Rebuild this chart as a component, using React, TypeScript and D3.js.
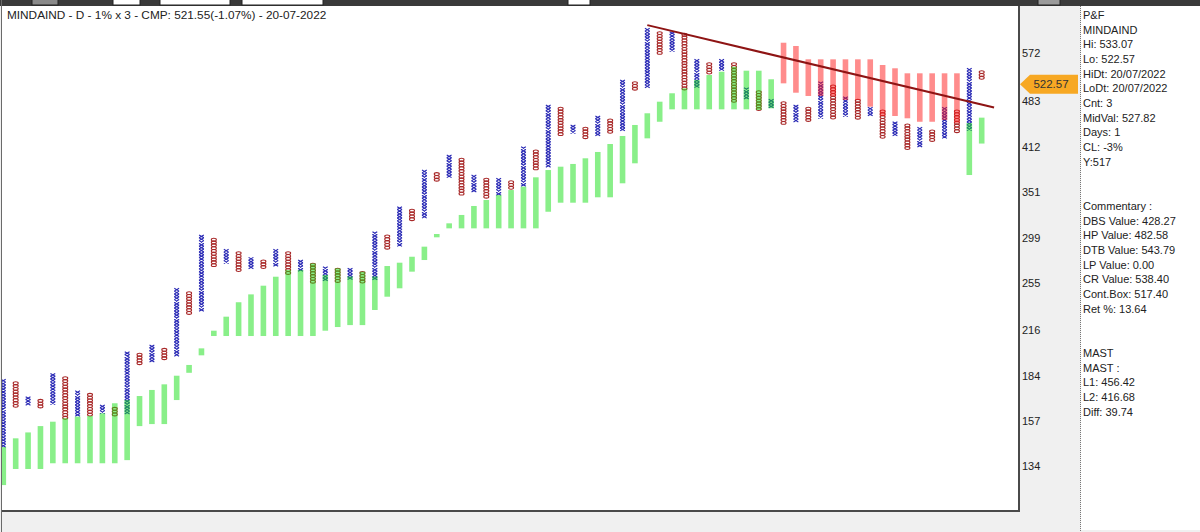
import React from 'react';
import * as d3 from 'd3';

// P&F columns, alternating X / O
const colKind = 'XOXOXOXOXOXOXOXOXOXOXOXOXOXOXOXOXOXOXOXOXOXOXOXOXOXOXOXOXOXOXOXOXOXOXOXOXOXOXOXO';

const colHigh = [
  181.8, 180.2, 171.0, 169.4, 185.6, 183.4, 174.6, 173.0, 166.1, 164.7,
  200.3, 199.2, 205.1, 202.7, 250.4, 247.4, 302.1, 298.6, 287.2, 284.8,
  279.2, 276.6, 287.2, 284.8, 276.6, 273.4, 270.2, 268.7, 268.7, 265.5,
  305.6, 302.1, 333.6, 330.6, 379.6, 376.1, 400.2, 395.6, 373.0, 368.7,
  368.7, 365.6, 412.1, 407.3, 477.2, 473.4, 444.8, 441.2, 459.1, 454.2,
  521.1, 518.0, 625.0, 617.6, 617.6, 614.1, 560.4, 553.8, 560.4, 553.8,
  507.2, 501.8, 486.8, 482.8, 477.2, 473.4, 518.0, 512.0, 491.3, 486.8,
  473.4, 468.9, 449.9, 446.3, 441.2, 437.0, 473.4, 468.9, 543.0, 538.4,
];

const colLow = [
  143.2, 164.7, 166.7, 164.7, 166.1, 158.5, 159.8, 159.8, 161.6, 159.8,
  161.3, 191.2, 192.7, 195.0, 197.3, 228.7, 230.6, 270.8, 273.4, 265.5,
  267.7, 267.7, 270.2, 262.4, 265.5, 254.8, 257.8, 254.8, 257.8, 254.8,
  257.8, 287.2, 290.6, 316.5, 320.3, 364.3, 368.7, 347.6, 350.5, 343.7,
  347.6, 353.8, 358.0, 379.6, 384.1, 427.9, 432.0, 424.4, 427.9, 432.0,
  437.0, 501.8, 506.1, 571.0, 575.6, 501.8, 509.0, 533.5, 536.5, 482.8,
  486.8, 467.7, 473.4, 446.3, 449.9, 449.9, 453.8, 453.8, 457.9, 453.8,
  457.9, 424.4, 427.9, 407.3, 411.2, 419.4, 423.0, 432.0, 437.0, 522.4,
];

// MAST band per column
const bandHigh = [
  143.2, 147.7, 150.8, 154.2, 156.6, 158.5, 159.4, 159.8, 161.3, 167.1,
  169.0, 171.4, 175.1, 178.6, 184.1, 191.2, 202.7, 215.7, 226.6, 238.4,
  245.1, 252.7, 260.8, 267.0, 267.0, 273.4, 262.4, 268.7, 261.0, 265.5,
  261.0, 270.8, 274.0, 279.8, 289.9, 303.1, 314.7, 324.1, 334.5, 341.6,
  347.6, 353.8, 358.0, 370.0, 379.6, 384.1, 387.8, 395.6, 404.5, 416.0,
  427.9, 444.8, 463.5, 482.8, 497.3, 506.0, 521.1, 530.3, 536.5, 546.0,
  538.4, 538.4, 522.4, 594.1, 587.3, 560.4, 560.4, 560.4, 560.4, 560.4,
  560.4, 549.3, 543.0, 533.5, 533.5, 533.5, 533.5, 533.5, 447.9, 456.42,
];

const bandLow = [
  125.3, 132.6, 132.6, 132.6, 135.3, 135.3, 135.3, 135.3, 135.3, 135.3,
  136.8, 154.2, 155.3, 155.3, 169.0, 186.0, 197.8, 211.7, 211.7, 211.7,
  211.7, 211.7, 211.7, 211.7, 211.7, 211.7, 215.7, 218.5, 220.0, 220.0,
  232.0, 243.1, 250.4, 265.5, 276.6, 299.6, 309.2, 309.2, 309.2, 309.2,
  309.2, 309.2, 309.2, 309.2, 327.8, 338.4, 338.4, 338.4, 344.9, 344.9,
  362.3, 388.7, 424.4, 449.9, 470.0, 470.0, 470.0, 470.0, 470.0, 470.0,
  470.0, 468.9, 471.7, 515.0, 498.3, 492.6, 492.6, 492.6, 485.7, 485.7,
  474.4, 459.1, 459.1, 455.4, 449.9, 449.9, 452.6, 447.9, 373.0, 416.68,
];

// G = band below price (green), R = band above price (red)
const bandTone = 'GGGGGGGGGGGGGGGGGGGGGGGGGGGGGGGGGGGGGGGGGGGGGGGGGGGGGGGGGGGGGGGRRRRRRRRRRRRRRRGG';

const trendCols = [52, 80];
const trendPrices = [632, 473];

const yTicks = [572, 483, 412, 351, 299, 255, 216, 184, 157, 134];

const lastPrice = 522.57;
const title = 'MINDAIND - D - 1% x 3 - CMP: 521.55(-1.07%) - 20-07-2022';

const infoLines = [
  'P&F', 'MINDAIND', 'Hi: 533.07', 'Lo: 522.57', 'HiDt: 20/07/2022', 'LoDt: 20/07/2022',
  'Cnt: 3', 'MidVal: 527.82', 'Days: 1', 'CL: -3%', 'Y:517', '', '',
  'Commentary :', 'DBS Value:  428.27', 'HP Value: 482.58', 'DTB Value: 543.79',
  'LP Value: 0.00', 'CR Value: 538.40', 'Cont.Box: 517.40', 'Ret %: 13.64', '', '',
  'MAST', 'MAST :', 'L1: 456.42', 'L2: 416.68', 'Diff: 39.74',
];

const toolbarBoxes = [
  { x: 32, w: 26, c: '#8a8a8a' },
  { x: 113, w: 27, c: '#ffffff' },
  { x: 160, w: 70, c: '#ffffff' },
  { x: 242, w: 81, c: '#ffffff' },
  { x: 568, w: 22, c: '#ffffff' },
  { x: 1038, w: 22, c: '#9a9a9a' },
];

const FONT = '"Liberation Sans", Arial, sans-serif';
const BOX = 1.01;

export default function App() {
  const width = 1200;
  const height = 532;
  const plot = { l: 2, t: 6, r: 1019, b: 511 };

  const x = d3.scaleLinear().domain([0, colKind.length - 1]).range([3.3, 981.7]);
  const y = d3.scaleLog().domain([134, 572]).range([466, 53.5]);

  const symbols: React.ReactNode[] = [];
  for (let i = 0; i < colKind.length; i++) {
    const hi = colHigh[i];
    const n = Math.max(1, Math.round(Math.log(hi / colLow[i]) / Math.log(BOX)));
    const cx = x(i);
    for (let k = 0; k < n; k++) {
      const t = y(hi / Math.pow(BOX, k));
      const b = y(hi / Math.pow(BOX, k + 1));
      if (colKind[i] === 'X') {
        symbols.push(
          <path key={`s${i}-${k}`}
                d={`M${cx - 2.4},${t}L${cx + 2.4},${b}M${cx + 2.4},${t}L${cx - 2.4},${b}`}
                stroke="#2828b4" strokeWidth={1.1} fill="none"/>
        );
      } else {
        symbols.push(
          <ellipse key={`s${i}-${k}`} cx={cx} cy={(t + b) / 2} rx={2.5} ry={(b - t) / 2}
                   stroke="#a82828" strokeWidth={1.1} fill="none"/>
        );
      }
    }
  }

  const bands = colKind.split('').map((_, i) => {
    const t = y(bandHigh[i]);
    const b = y(bandLow[i]);
    return (
      <rect key={`b${i}`} x={x(i) - 2.8} y={t} width={5.6} height={Math.max(2, b - t)}
            fill={bandTone[i] === 'R' ? '#ff1a1a' : '#14e014'} opacity={0.5}/>
    );
  });

  const trend = d3.line<number>()
    .x((d, i) => x(trendCols[i]))
    .y(d => y(d));

  const tagY = y(lastPrice) + 5;

  return (
    <svg width={width} height={height}
         style={{ position: 'fixed', left: 0, top: 0, fontFamily: FONT }}>
      <defs>
        <clipPath id="plotClip">
          <rect x={plot.l} y={plot.t} width={plot.r - plot.l} height={plot.b - plot.t}/>
        </clipPath>
      </defs>
      <rect x={0} y={0} width={width} height={height} fill="#f0f0f0"/>

      {/* toolbar strip */}
      <rect x={0} y={0} width={width} height={6} fill="#3a3a3a"/>
      {toolbarBoxes.map((b, i) =>
        <rect key={`tb${i}`} x={b.x} y={-1} width={b.w} height={6} fill={b.c} stroke="#222" strokeWidth={1}/>)}

      {/* plot area */}
      <rect x={plot.l} y={plot.t} width={plot.r - plot.l} height={plot.b - plot.t} fill="#fff"/>
      <g clipPath="url(#plotClip)">
        {symbols}
        {bands}
        <path d={trend(trendPrices) || ''} stroke="#8e1414" strokeWidth={2} fill="none"/>
      </g>
      <text x={7} y={15} dy="0.35em" fontSize={11.8} fill="#222">{title}</text>
      <line x1={1.5} x2={1.5} y1={0} y2={height} stroke="#6a6a6a" strokeWidth={1}/>
      <line x1={plot.r} x2={plot.r} y1={plot.t} y2={plot.b + 1} stroke="#4a4a4a" strokeWidth={2}/>
      <line x1={plot.l} x2={plot.r + 1} y1={plot.b} y2={plot.b} stroke="#4a4a4a" strokeWidth={2}/>

      {/* price axis */}
      <g>
        {yTicks.map(t =>
          <text key={t} x={1022} y={y(t)} dy="0.35em" fontSize={11} fill="#222">{t}</text>)}
        <polygon points={`1020,${tagY} 1030,${tagY - 9.5} 1078,${tagY - 9.5} 1078,${tagY + 9.5} 1030,${tagY + 9.5}`}
                 fill="#f7a823"/>
        <text x={1051} y={tagY} dy="0.35em" textAnchor="middle" fontSize={11.5} fill="#333">{lastPrice.toFixed(2)}</text>
      </g>

      {/* info panel */}
      <rect x={1081} y={6} width={width - 1081} height={524} fill="#fff"/>
      <line x1={1080.5} x2={1080.5} y1={6} y2={height} stroke="#777" strokeWidth={1} strokeDasharray="1,1"/>
      {infoLines.map((s, i) =>
        <text key={`i${i}`} x={1083} y={15 + 14.7 * i} dy="0.35em" fontSize={11} fill="#222">{s}</text>)}
    </svg>
  );
}
